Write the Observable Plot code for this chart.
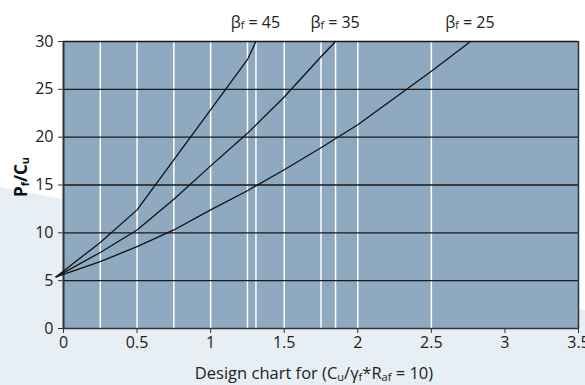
<!DOCTYPE html>
<html><head><meta charset="utf-8">
<script src="https://cdn.jsdelivr.net/npm/d3@7"></script>
<script src="https://cdn.jsdelivr.net/npm/@observablehq/plot@0.6"></script>
<style>
html,body{margin:0;padding:0;background:#fff;}
#wrap{position:relative;width:585px;height:385px;overflow:hidden;}
#bg{position:absolute;left:0;top:0;}
#chart{position:absolute;left:0;top:0;}
</style></head><body>
<div id="wrap"><svg id="bg" width="585" height="385"><path d="M0,187 L62,199 Q400,268 585,310 L585,385 L0,385 Z" fill="#e7eef4"/></svg><div id="chart"></div></div>
<script>
// Series: beta_f values and curve points
const betas = [45, 35, 25];
const x45 = [-0.05, 0.25, 0.5, 1.25, 1.308];
const y45 = [5.4, 9.0, 12.4, 28.1, 30];
const x35 = [-0.05, 0.25, 0.5, 0.75, 1.0, 1.25, 1.5, 1.75, 1.849];
const y35 = [5.4, 7.95, 10.3, 13.5, 17.0, 20.4, 24.2, 28.4, 30];
const x25 = [-0.05, 0.25, 0.5, 0.75, 1.0, 1.25, 1.5, 1.75, 2.0, 2.5, 2.766];
const y25 = [5.4, 7.0, 8.55, 10.3, 12.4, 14.4, 16.6, 18.9, 21.3, 26.9, 30];
const xTicks = [0, 0.5, 1, 1.5, 2, 2.5, 3, 3.5];
const yTicks = [0, 5, 10, 15, 20, 25, 30];
const whiteX = [0.25, 0.5, 0.75, 1, 1.25, 1.308, 1.5, 1.75, 1.849, 2, 2.5];
const darkY = [5, 10, 15, 20, 25];

const series = [[45, x45, y45], [35, x35, y35], [25, x25, y25]];
const rows = series.flatMap(([b, xs, ys]) => xs.map((x, i) => ({beta: b, x, y: ys[i]})));
const ends = series.map(([b, xs, ys]) => ({beta: b, x: xs[xs.length - 1], y: ys[ys.length - 1]}));

const FONT = "'Open Sans', 'Noto Sans', sans-serif";
const plot = Plot.plot({
  width: 585, height: 385,
  marginLeft: 63, marginRight: 7, marginTop: 41, marginBottom: 57,
  style: {background: "transparent", fontFamily: FONT, fontSize: "16px", color: "#222"},
  x: {domain: [0, 3.5], label: null},
  y: {domain: [0, 30], label: null},
  marks: [
    Plot.frame({fill: "#8fa9c0", stroke: null}),
    Plot.ruleX(whiteX, {stroke: "white", strokeWidth: 1.5}),
    Plot.ruleY(darkY, {stroke: "#1a1a1a", strokeWidth: 1.4}),
    Plot.ruleY([30], {stroke: "#1a1a1a", strokeWidth: 1.5}),
    Plot.ruleY([0], {stroke: "#333", strokeWidth: 1.5}),
    Plot.ruleX([3.5], {stroke: "#333", strokeWidth: 1.5}),
    Plot.ruleX([0], {stroke: "#333", strokeWidth: 2}),
    Plot.line(rows, {x: "x", y: "y", z: "beta", stroke: "#111", strokeWidth: 1.3}),
    Plot.axisX(xTicks, {tickSize: 5, tickPadding: 3, tickFormat: d => String(d), stroke: "#333", fill: "#222", fontSize: 16}),
    Plot.axisY(yTicks, {tickSize: 5, tickPadding: 5, tickFormat: d => String(d), stroke: "#333", fill: "#222", fontSize: 16})
  ]
});
document.getElementById("chart").appendChild(plot);

const sx = plot.scale("x"), sy = plot.scale("y");
const svg = d3.select(plot);
const g = svg.append("g").attr("font-family", FONT).attr("fill", "#222");

// Beta labels above the end of each curve
ends.forEach(e => {
  const t = g.append("text")
    .attr("x", sx.apply(e.x)).attr("y", sy.apply(e.y) - 13)
    .attr("text-anchor", "middle").attr("font-size", 16);
  t.append("tspan").text("β");
  t.append("tspan").attr("font-size", 10.5).attr("dy", 1).text("f");
  t.append("tspan").attr("dy", -1).text(" = " + e.beta);
});

// X title
const xt = g.append("text").attr("x", 314).attr("y", 379).attr("text-anchor", "middle").attr("font-size", 16.5);
xt.append("tspan").text("Design chart for (C");
xt.append("tspan").attr("font-size", 11).attr("dy", 2).text("u");
xt.append("tspan").attr("dy", -2).text("/γ");
xt.append("tspan").attr("font-size", 11).attr("dy", 2).text("f");
xt.append("tspan").attr("dy", -2).text("*R");
xt.append("tspan").attr("font-size", 11).attr("dy", 2).text("af");
xt.append("tspan").attr("dy", -2).text(" = 10)");

// Y title
const yt = g.append("text").attr("transform", "translate(27,177) rotate(-90)")
  .attr("text-anchor", "middle").attr("font-size", 17).attr("font-weight", "bold").attr("fill", "#111");
yt.append("tspan").text("P");
yt.append("tspan").attr("font-size", 11).attr("dy", 2).text("f");
yt.append("tspan").attr("dy", -2).text("/C");
yt.append("tspan").attr("font-size", 11).attr("dy", 2).text("u");
</script>
</body></html>
